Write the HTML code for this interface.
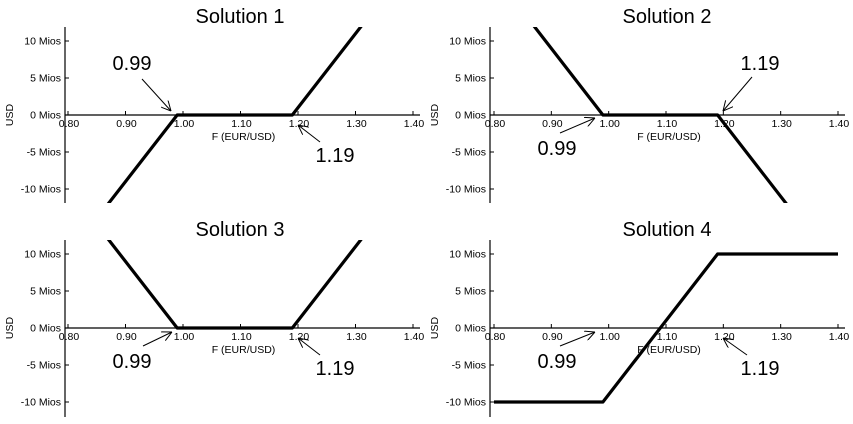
<!DOCTYPE html>
<html><head><meta charset="utf-8"><style>
html,body{margin:0;padding:0;background:#fff;width:853px;height:424px;overflow:hidden}
svg{display:block}
text{font-family:"Liberation Sans",sans-serif;fill:#000}
</style></head><body>
<svg id="chart" width="853" height="424" viewBox="0 0 853 424">
<defs>
<marker id="ah" viewBox="0 0 10 10" refX="10" refY="5" markerWidth="10" markerHeight="10" markerUnits="userSpaceOnUse" orient="auto">
<path d="M0,0 L10,5 L0,10" fill="none" stroke="#000" stroke-width="1"/>
</marker>
</defs>
</svg>
<script>
const xTicks = [0.80,0.90,1.00,1.10,1.20,1.30,1.40];
const xTickLabels = ["0.80","0.90","1.00","1.10","1.20","1.30","1.40"];
const yTicks = [10,5,0,-5,-10];
const yTickLabels = ["10 Mios","5 Mios","0 Mios","-5 Mios","-10 Mios"];
const strikes = [0.80,0.99,1.19,1.40];
const sol1 = [-19,0,0,21];
const sol2 = [19,0,0,-21];
const sol3 = [19,0,0,21];
const sol4 = [-10,-10,10,10];
const titles = ["Solution 1","Solution 2","Solution 3","Solution 4"];

const NS="http://www.w3.org/2000/svg";
const svg=document.getElementById('chart');
function mk(tag,attrs,parent){const e=document.createElementNS(NS,tag);for(const k in attrs)e.setAttribute(k,attrs[k]);(parent||svg).appendChild(e);return e;}

const panels=[
 {series:sol1,ax:65,x0:68,x1:413,xEnd:420,y0:115,yTop:27,yBot:203,tx:240,ty:15,ann:[[132,70,142,79,171,111,"0.99"],[335,162,320,142,298,125,"1.19"]]},
 {series:sol2,ax:490,x0:494,x1:838,xEnd:845,y0:115,yTop:27,yBot:203,tx:667,ty:15,ann:[[760,70,752,77,723,111,"1.19"],[557,155,560,133,595,118,"0.99"]]},
 {series:sol3,ax:65,x0:68,x1:413,xEnd:420,y0:328,yTop:240,yBot:417,tx:240,ty:228,ann:[[132,368,143,346,172,332,"0.99"],[335,375,320,355,298,338,"1.19"]]},
 {series:sol4,ax:490,x0:494,x1:838,xEnd:845,y0:328,yTop:240,yBot:417,tx:667,ty:228,ann:[[557,368,560,346,595,332,"0.99"],[760,375,747,355,723,338,"1.19"]]}
];

panels.forEach((p,i)=>{
  const g=mk('g',{});
  
  
  const xs=v=>p.x0+(v-0.80)/(0.60)*(p.x1-p.x0);
  const ys=v=>p.y0-v*7.4;
  const cid='clip'+i;
  const cp=mk('clipPath',{id:cid},g);
  mk('rect',{x:p.ax,y:p.yTop,width:p.xEnd-p.ax,height:p.yBot-p.yTop},cp);
  const t=mk('text',{x:p.tx,y:p.ty+8,'text-anchor':'middle','font-size':20},g);
  t.textContent=titles[i];
  
  
  const ya=mk('line',{x1:p.ax,y1:p.yTop,x2:p.ax,y2:p.yBot,stroke:'#000','stroke-width':1.2},g);
  
  
  const xa=mk('line',{x1:p.ax,y1:p.y0,x2:p.xEnd,y2:p.y0,stroke:'#000','stroke-width':1.2},g);
  
  
  yTicks.forEach((v,j)=>{
    mk('line',{x1:p.ax,y1:ys(v),x2:p.ax+4,y2:ys(v),stroke:'#000'},g);
    const l=mk('text',{x:p.ax-4,y:ys(v)+3.5,'text-anchor':'end','font-size':10.5},g);
    l.textContent=yTickLabels[j];
    
    
  });
  xTicks.forEach((v,j)=>{
    mk('line',{x1:xs(v),y1:p.y0,x2:xs(v),y2:p.y0-4,stroke:'#000'},g);
    const l=mk('text',{x:xs(v)+1,y:p.y0+12,'text-anchor':'middle','font-size':10.5},g);
    l.textContent=xTickLabels[j];
    
    
  });
  const xl=mk('text',{x:(p.x0+p.x1)/2+3,y:p.y0+25,'text-anchor':'middle','font-size':10.5},g);
  xl.textContent='F (EUR/USD)';
  
  
  const yl=mk('text',{x:0,y:0,'text-anchor':'middle','font-size':10.5,transform:`translate(${p.ax-52},${p.y0}) rotate(-90)`},g);
  yl.textContent='USD';
  
  
  const d=strikes.map((s,j)=>(j?'L':'M')+xs(s).toFixed(1)+','+ys(p.series[j]).toFixed(1)).join(' ');
  const path=mk('path',{d:d,fill:'none',stroke:'#000','stroke-width':3.2,'stroke-linejoin':'round','clip-path':`url(#${cid})`},g);
  
  
  p.ann.forEach(a=>{
    const at=mk('text',{x:a[0],y:a[1],'text-anchor':'middle','font-size':20},g);
    at.textContent=a[6];
    
    
    const ar=mk('line',{x1:a[2],y1:a[3],x2:a[4],y2:a[5],stroke:'#000','stroke-width':1,'marker-end':'url(#ah)'},g);
    
    
  });
});
</script>
</body></html>
